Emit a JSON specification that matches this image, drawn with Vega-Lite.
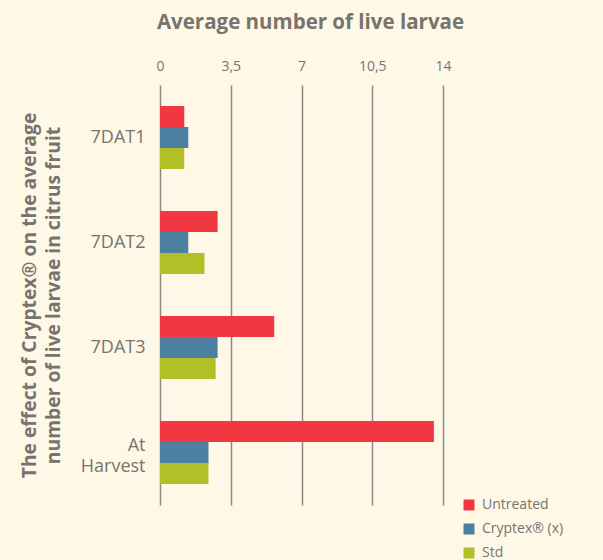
{
  "$schema": "https://vega.github.io/schema/vega-lite/v6.json",
  "width": 283,
  "height": 420,
  "autosize": {"type": "none"},
  "padding": {"left": 160, "top": 85, "right": 160, "bottom": 55},
  "background": "#fff8e7",
  "config": {"view": {"stroke": null}, "font": "Open Sans"},
  "title": {
    "text": "Average number of live larvae",
    "fontSize": 20.5,
    "fontWeight": "bold",
    "color": "#77736f",
    "anchor": "middle",
    "dx": 9,
    "offset": 26
  },
  "data": {
    "values": [
      {"time": "7DAT1", "series": "Untreated", "value": 1.2},
      {"time": "7DAT1", "series": "Cryptex® (x)", "value": 1.4},
      {"time": "7DAT1", "series": "Std", "value": 1.2},
      {"time": "7DAT2", "series": "Untreated", "value": 2.85},
      {"time": "7DAT2", "series": "Cryptex® (x)", "value": 1.4},
      {"time": "7DAT2", "series": "Std", "value": 2.2},
      {"time": "7DAT3", "series": "Untreated", "value": 5.65},
      {"time": "7DAT3", "series": "Cryptex® (x)", "value": 2.85},
      {"time": "7DAT3", "series": "Std", "value": 2.75},
      {"time": "At Harvest", "series": "Untreated", "value": 13.55},
      {"time": "At Harvest", "series": "Cryptex® (x)", "value": 2.4},
      {"time": "At Harvest", "series": "Std", "value": 2.4}
    ]
  },
  "mark": {"type": "bar"},
  "encoding": {
    "y": {
      "field": "time",
      "type": "nominal",
      "sort": ["7DAT1", "7DAT2", "7DAT3", "At Harvest"],
      "scale": {"paddingInner": 0.4, "paddingOuter": 0.2},
      "axis": {
        "title": ["The effect of Cryptex® on the average", "number of live larvae in citrus fruit"],
        "titleFontSize": 19.3,
        "titleFontWeight": "bold",
        "titleColor": "#77736f",
        "titleLineHeight": 24,
        "titlePadding": 17,
        "domain": false,
        "ticks": false,
        "labelPadding": 15,
        "labelFontSize": 18,
        "labelColor": "#77736f",
        "labelLineHeight": 21,
        "labelOffset": {"condition": {"test": "datum.value == 'At Harvest'", "value": -7}, "value": 0},
        "labelExpr": "datum.value == 'At Harvest' ? ['At', 'Harvest'] : datum.label"
      }
    },
    "yOffset": {
      "field": "series",
      "type": "nominal",
      "sort": ["Untreated", "Cryptex® (x)", "Std"],
      "scale": {"paddingInner": 0, "paddingOuter": 0}
    },
    "x": {
      "field": "value",
      "type": "quantitative",
      "scale": {"domain": [0, 14], "nice": false},
      "axis": {
        "orient": "top",
        "values": [0, 3.5, 7, 10.5, 14],
        "labelExpr": "replace(toString(datum.value), '.', ',')",
        "labelFlush": false,
        "grid": true,
        "gridColor": "#8c8884",
        "gridWidth": 1.5,
        "domain": false,
        "ticks": false,
        "title": null,
        "labelFontSize": 14,
        "labelColor": "#77736f",
        "labelPadding": 12
      }
    },
    "color": {
      "field": "series",
      "type": "nominal",
      "scale": {
        "domain": ["Untreated", "Cryptex® (x)", "Std"],
        "range": ["#f03742", "#4d80a0", "#b2bf27"]
      },
      "legend": {
        "title": null,
        "orient": "none",
        "legendX": 302,
        "legendY": 413,
        "symbolType": "square",
        "symbolSize": 121,
        "symbolStrokeWidth": 0,
        "labelFontSize": 14,
        "labelColor": "#77736f",
        "labelOffset": 6,
        "rowPadding": 10,
        "padding": 0
      }
    }
  }
}
